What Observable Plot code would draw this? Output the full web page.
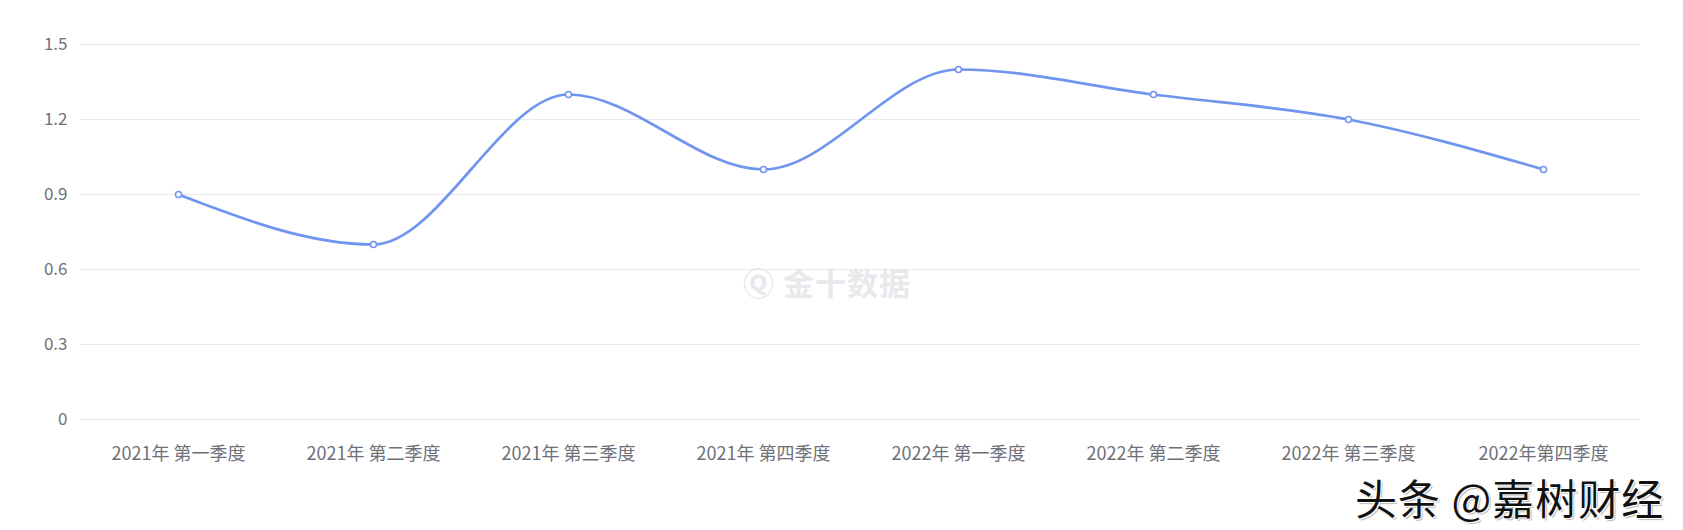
<!DOCTYPE html>
<html>
<head>
<meta charset="utf-8">
<script src="https://cdn.jsdelivr.net/npm/d3@7"></script>
<script src="https://cdn.jsdelivr.net/npm/@observablehq/plot@0.6"></script>
<style>
  html, body { margin: 0; padding: 0; background: #fff; }
  #wrap { position: relative; width: 1683px; height: 530px; overflow: hidden; font-family: "Noto Sans CJK SC", "Noto Sans", sans-serif; }
  #wm1 { position: absolute; left: 743px; top: 259px; color: #e7e9ed; font-size: 31px; font-weight: 700; letter-spacing: 1px; white-space: nowrap; }
  #wm2 { position: absolute; left: 1355px; top: 476px; color: #111; font-size: 42px; line-height: 1; letter-spacing: 1px; white-space: nowrap;
         text-shadow: 1px 1px 0 #fff, -1px -1px 0 #fff, 2px 2px 1px #bbb; }
</style>
</head>
<body>
<div id="wrap">
  <div id="chart"></div>
  <div id="wm1">Ⓠ 金十数据</div>
  <div id="wm2">头条 @嘉树财经</div>
</div>
<script>
const categories = ["2021年 第一季度", "2021年 第二季度", "2021年 第三季度", "2021年 第四季度",
                    "2022年 第一季度", "2022年 第二季度", "2022年 第三季度", "2022年第四季度"];
const values = [0.9, 0.7, 1.3, 1.0, 1.4, 1.3, 1.2, 1.0];
const yTicks = [0, 0.3, 0.6, 0.9, 1.2, 1.5];

const data = categories.map((c, i) => ({cat: c, v: values[i]}));
const lineColor = "#6f95ef";

const chart = Plot.plot({
  width: 1683,
  height: 530,
  marginLeft: 80,
  marginRight: 43,
  marginTop: 44,
  marginBottom: 111,
  style: {fontFamily: '"Noto Sans CJK SC", "Noto Sans", sans-serif', fontSize: "18px", color: "#6e7079", background: "transparent"},
  x: {type: "point", domain: categories, padding: 0.5, label: null},
  y: {domain: [0, 1.5], ticks: yTicks, label: null},
  marks: [
    Plot.gridY(yTicks, {stroke: "#e9eaee", strokeOpacity: 1, strokeWidth: 1.2}),
    Plot.axisY(yTicks, {tickSize: 0, tickPadding: 13, tickFormat: d => String(d), fill: "#6e7079", fontSize: 17, label: null}),
    Plot.axisX({tickSize: 0, tickPadding: 28, fill: "#6e7079", fontSize: 18, label: null}),
    Plot.line(data, {x: "cat", y: "v", stroke: lineColor, strokeWidth: 2.7, curve: "monotone-x"}),
    Plot.dot(data, {x: "cat", y: "v", r: 3, fill: "#fff", stroke: lineColor, strokeWidth: 1.6})
  ]
});
document.getElementById("chart").appendChild(chart);
</script>
</body>
</html>
